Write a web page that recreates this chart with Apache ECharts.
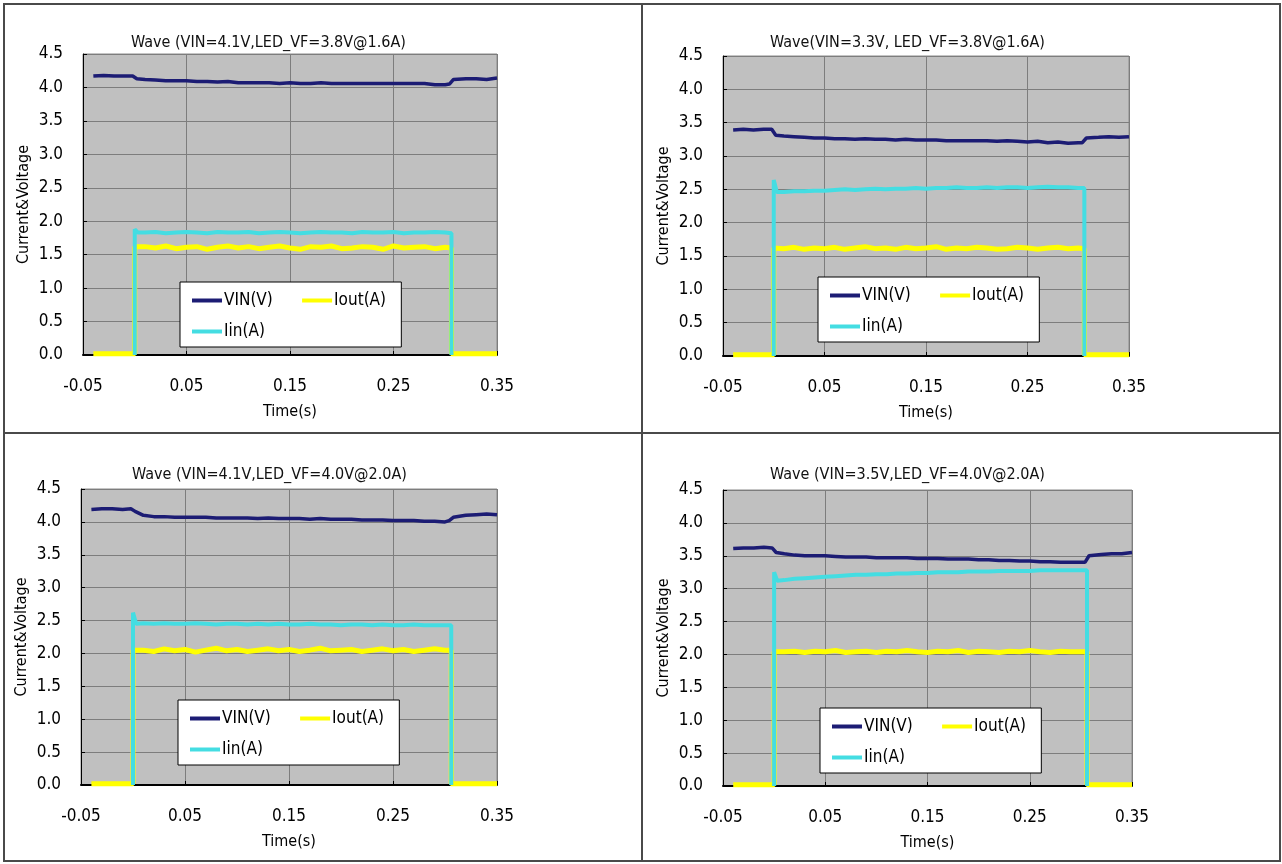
<!DOCTYPE html>
<html>
<head>
<meta charset="utf-8">
<script src="https://cdn.jsdelivr.net/npm/echarts@6/dist/echarts.min.js"></script>
<style>
html,body{margin:0;padding:0;background:#fff;}
#c{width:1282px;height:864px;}
</style>
</head>
<body>
<div id="c"></div>
<script>
// ---------- DATA ----------
const TITLES = [
  'Wave (VIN=4.1V,LED_VF=3.8V@1.6A)',
  'Wave(VIN=3.3V, LED_VF=3.8V@1.6A)',
  'Wave (VIN=4.1V,LED_VF=4.0V@2.0A)',
  'Wave (VIN=3.5V,LED_VF=4.0V@2.0A)'
];
const SERIES_NAMES = ['VIN(V)', 'Iout(A)', 'Iin(A)'];
const X_TICKS = [-0.05, 0.05, 0.15, 0.25, 0.35];
const Y_TICKS = [0, 0.5, 1, 1.5, 2, 2.5, 3, 3.5, 4, 4.5];

// shared time bases (s)
const TIME_VIN = [-0.04,-0.03,-0.02,-0.01,-0.002, 0.002,
  0.01,0.02,0.03,0.04,0.05,0.06,0.07,0.08,0.09,0.10,0.11,0.12,0.13,0.14,0.15,
  0.16,0.17,0.18,0.19,0.20,0.21,0.22,0.23,0.24,0.25,0.26,0.27,0.28,0.29,0.30,
  0.304,0.308, 0.32,0.33,0.34,0.35];
const TIME_IIN = [0.0, 0.0, 0.003,
  0.01,0.02,0.03,0.04,0.05,0.06,0.07,0.08,0.09,0.10,0.11,0.12,0.13,0.14,0.15,
  0.16,0.17,0.18,0.19,0.20,0.21,0.22,0.23,0.24,0.25,0.26,0.27,0.28,0.29,0.30,
  0.306, 0.306];
const TIME_IOUT = [-0.04,-0.03,-0.02,-0.01,-0.005, 0.0, 0.0,
  0.01,0.02,0.03,0.04,0.05,0.06,0.07,0.08,0.09,0.10,0.11,0.12,0.13,0.14,0.15,
  0.16,0.17,0.18,0.19,0.20,0.21,0.22,0.23,0.24,0.25,0.26,0.27,0.28,0.29,0.30,
  0.306, 0.306, 0.31,0.32,0.33,0.34,0.35];

// Panel 1: VIN=4.1V, LED_VF=3.8V@1.6A
const VIN_1 = [4.17,4.18,4.17,4.17,4.17, 4.13,
  4.12,4.11,4.10,4.10,4.10,4.09,4.09,4.08,4.09,4.07,4.07,4.07,4.07,4.06,4.07,
  4.06,4.06,4.07,4.06,4.06,4.06,4.06,4.06,4.06,4.06,4.06,4.06,4.06,4.04,4.04,
  4.05,4.12, 4.13,4.13,4.12,4.14];
const IIN_1 = [0, 1.88, 1.83,
  1.83,1.84,1.82,1.83,1.84,1.83,1.82,1.84,1.83,1.83,1.84,1.82,1.83,1.84,1.83,
  1.82,1.83,1.84,1.83,1.83,1.82,1.84,1.83,1.83,1.84,1.82,1.83,1.83,1.84,1.83,
  1.82, 0];
const IOUT_1 = [0.02,0.02,0.02,0.02,0.02, 0.02, 1.62,
  1.62,1.60,1.63,1.59,1.61,1.62,1.58,1.61,1.63,1.60,1.62,1.59,1.61,1.63,1.60,
  1.58,1.62,1.61,1.63,1.59,1.60,1.62,1.61,1.58,1.63,1.60,1.61,1.62,1.59,1.61,
  1.60, 0.02, 0.02,0.02,0.02,0.02,0.02];

// Panel 2: VIN=3.3V, LED_VF=3.8V@1.6A
const VIN_2 = [3.39,3.40,3.39,3.40,3.40, 3.31,
  3.30,3.29,3.28,3.27,3.27,3.26,3.26,3.25,3.26,3.25,3.25,3.24,3.25,3.24,3.24,
  3.24,3.23,3.23,3.23,3.23,3.23,3.22,3.23,3.22,3.21,3.22,3.20,3.21,3.19,3.20,
  3.20,3.27, 3.28,3.29,3.28,3.29];
const IIN_2 = [0, 2.64, 2.46,
  2.46,2.47,2.47,2.48,2.48,2.49,2.50,2.49,2.50,2.51,2.50,2.51,2.51,2.52,2.51,
  2.52,2.52,2.53,2.52,2.52,2.53,2.52,2.53,2.53,2.52,2.53,2.54,2.53,2.53,2.52,
  2.52, 0];
const IOUT_2 = [0.02,0.02,0.02,0.02,0.02, 0.02, 1.62,
  1.61,1.63,1.60,1.62,1.61,1.63,1.60,1.62,1.64,1.61,1.62,1.60,1.63,1.61,1.62,
  1.64,1.60,1.62,1.61,1.63,1.62,1.60,1.61,1.63,1.62,1.60,1.62,1.63,1.61,1.62,
  1.61, 0.02, 0.02,0.02,0.02,0.02,0.02];

// Panel 3: VIN=4.1V, LED_VF=4.0V@2.0A
const VIN_3 = [4.19,4.20,4.20,4.19,4.20, 4.16,
  4.10,4.08,4.08,4.07,4.07,4.07,4.07,4.06,4.06,4.06,4.06,4.05,4.06,4.05,4.05,
  4.05,4.04,4.05,4.04,4.04,4.04,4.03,4.03,4.03,4.02,4.02,4.02,4.01,4.01,4.00,
  4.02,4.07, 4.10,4.11,4.12,4.11];
const IIN_3 = [0, 2.62, 2.45,
  2.46,2.45,2.46,2.45,2.45,2.46,2.45,2.44,2.45,2.45,2.44,2.45,2.44,2.45,2.44,
  2.44,2.45,2.44,2.44,2.43,2.44,2.44,2.43,2.44,2.43,2.43,2.44,2.43,2.43,2.43,
  2.43, 0];
const IOUT_3 = [0.02,0.02,0.02,0.02,0.02, 0.02, 2.05,
  2.05,2.03,2.07,2.04,2.06,2.02,2.05,2.08,2.04,2.06,2.03,2.05,2.07,2.04,2.06,
  2.03,2.05,2.08,2.04,2.05,2.06,2.03,2.05,2.07,2.04,2.06,2.03,2.05,2.07,2.05,
  2.05, 0.02, 0.02,0.02,0.02,0.02,0.02];

// Panel 4: VIN=3.5V, LED_VF=4.0V@2.0A
const VIN_4 = [3.61,3.62,3.62,3.63,3.62, 3.55,
  3.53,3.51,3.50,3.50,3.50,3.49,3.48,3.48,3.48,3.47,3.47,3.47,3.47,3.46,3.46,
  3.46,3.45,3.45,3.45,3.44,3.44,3.43,3.43,3.42,3.42,3.41,3.41,3.40,3.40,3.40,
  3.40,3.50, 3.52,3.53,3.53,3.55];
const IIN_4 = [0, 3.25, 3.12,
  3.13,3.15,3.16,3.17,3.18,3.19,3.20,3.21,3.21,3.22,3.22,3.23,3.23,3.24,3.24,
  3.25,3.25,3.25,3.26,3.26,3.26,3.27,3.27,3.27,3.27,3.28,3.28,3.28,3.28,3.28,
  3.28, 0];
const IOUT_4 = [0.02,0.02,0.02,0.02,0.02, 0.02, 2.04,
  2.04,2.05,2.03,2.05,2.04,2.06,2.03,2.04,2.05,2.03,2.05,2.04,2.06,2.04,2.03,
  2.05,2.04,2.06,2.03,2.05,2.04,2.03,2.05,2.04,2.06,2.04,2.03,2.05,2.04,2.04,
  2.04, 0.02, 0.02,0.02,0.02,0.02,0.02];

const VIN_ALL = [VIN_1, VIN_2, VIN_3, VIN_4];
const IOUT_ALL = [IOUT_1, IOUT_2, IOUT_3, IOUT_4];
const IIN_ALL = [IIN_1, IIN_2, IIN_3, IIN_4];

// ---------- LAYOUT / STYLE ----------
const FONT = "'DejaVu Sans Condensed','DejaVu Sans',sans-serif";
const GRIDS = [
  {left: 83, top: 54, width: 414, height: 301},
  {left: 723, top: 56, width: 406, height: 300},
  {left: 81, top: 489, width: 416, height: 296},
  {left: 723, top: 490, width: 409, height: 296}
];
const TITLE_POS = [{left: 126, top: 30}, {left: 765, top: 30}, {left: 127, top: 462}, {left: 765, top: 462}];
const LEGEND_POS = [{left: 180, top: 282}, {left: 818, top: 277}, {left: 178, top: 700}, {left: 820, top: 708}];
const COLORS = {vin: '#1c1c74', iout: '#ffff00', iin: '#44dde2'};

function zip(t, v) { return t.map((x, i) => [x, v[i]]); }

const grid = [], xAxis = [], yAxis = [], title = [], legend = [], series = [];
for (let i = 0; i < 4; i++) {
  grid.push(Object.assign({show: true, backgroundColor: '#c0c0c0', borderColor: '#8a8a8a', borderWidth: 1}, GRIDS[i]));
  title.push({text: TITLES[i], left: TITLE_POS[i].left, top: TITLE_POS[i].top,
    textStyle: {fontFamily: FONT, fontSize: 16, fontWeight: 'normal', color: '#111'}});
  xAxis.push({type: 'value', gridIndex: i, min: X_TICKS[0], max: X_TICKS[X_TICKS.length - 1], interval: 0.1,
    axisLine: {show: true, onZero: false, lineStyle: {color: '#000', width: 2}},
    axisTick: {show: true, inside: true, length: 4, lineStyle: {color: '#000'}},
    axisLabel: {formatter: v => v.toFixed(2), margin: 23, fontFamily: FONT, fontSize: 17, color: '#000'},
    splitLine: {show: true, lineStyle: {color: '#7d7d7d', width: 1}},
    name: 'Time(s)', nameLocation: 'middle', nameGap: 49,
    nameTextStyle: {fontFamily: FONT, fontSize: 16, color: '#000'}});
  yAxis.push({type: 'value', gridIndex: i, min: Y_TICKS[0], max: Y_TICKS[Y_TICKS.length - 1], interval: 0.5,
    axisLine: {show: true, onZero: false, lineStyle: {color: '#000', width: 1}},
    axisTick: {show: true, inside: true, length: 4, lineStyle: {color: '#000'}},
    axisLabel: {formatter: v => v.toFixed(1), margin: 20, fontFamily: FONT, fontSize: 17, color: '#000'},
    splitLine: {show: true, lineStyle: {color: '#7d7d7d', width: 1}},
    name: 'Current&Voltage', nameLocation: 'middle', nameGap: 51,
    nameTextStyle: {fontFamily: FONT, fontSize: 16, color: '#000'}});
  legend.push({left: LEGEND_POS[i].left, top: LEGEND_POS[i].top, width: 235,
    orient: 'horizontal', data: SERIES_NAMES.slice(),
    formatter: name => name + '\u2002\u2002',
    backgroundColor: '#fff', borderColor: '#000', borderWidth: 1,
    padding: [10, 0, 7, 12], itemGap: 14, itemWidth: 30, itemHeight: 4, icon: 'rect',
    textStyle: {fontFamily: FONT, fontSize: 17, color: '#000', padding: [0, 0, 0, -3]}});
  series.push({name: 'VIN(V)', type: 'line', xAxisIndex: i, yAxisIndex: i, showSymbol: false, symbol: 'none',
    data: zip(TIME_VIN, VIN_ALL[i]), lineStyle: {color: COLORS.vin, width: 3.5}, itemStyle: {color: COLORS.vin}});
  series.push({name: 'Iout(A)', type: 'line', xAxisIndex: i, yAxisIndex: i, showSymbol: false, symbol: 'none',
    data: zip(TIME_IOUT, IOUT_ALL[i]), lineStyle: {color: COLORS.iout, width: 5}, itemStyle: {color: COLORS.iout}});
  series.push({name: 'Iin(A)', type: 'line', xAxisIndex: i, yAxisIndex: i, showSymbol: false, symbol: 'none',
    data: zip(TIME_IIN, IIN_ALL[i]), lineStyle: {color: COLORS.iin, width: 4}, itemStyle: {color: COLORS.iin}});
}

const chart = echarts.init(document.getElementById('c'), null, {renderer: 'canvas'});
chart.setOption({
  animation: false,
  backgroundColor: '#fff',
  title, grid, xAxis, yAxis, legend, series,
  graphic: [
    {type: 'rect', shape: {x: 4, y: 4, width: 1276, height: 857}, style: {fill: 'none', stroke: '#4a4a4a', lineWidth: 2}, silent: true},
    {type: 'line', shape: {x1: 642, y1: 4, x2: 642, y2: 861}, style: {stroke: '#4a4a4a', lineWidth: 2}, silent: true},
    {type: 'line', shape: {x1: 4, y1: 433, x2: 1280, y2: 433}, style: {stroke: '#4a4a4a', lineWidth: 2}, silent: true}
  ]
});
</script>
</body>
</html>
